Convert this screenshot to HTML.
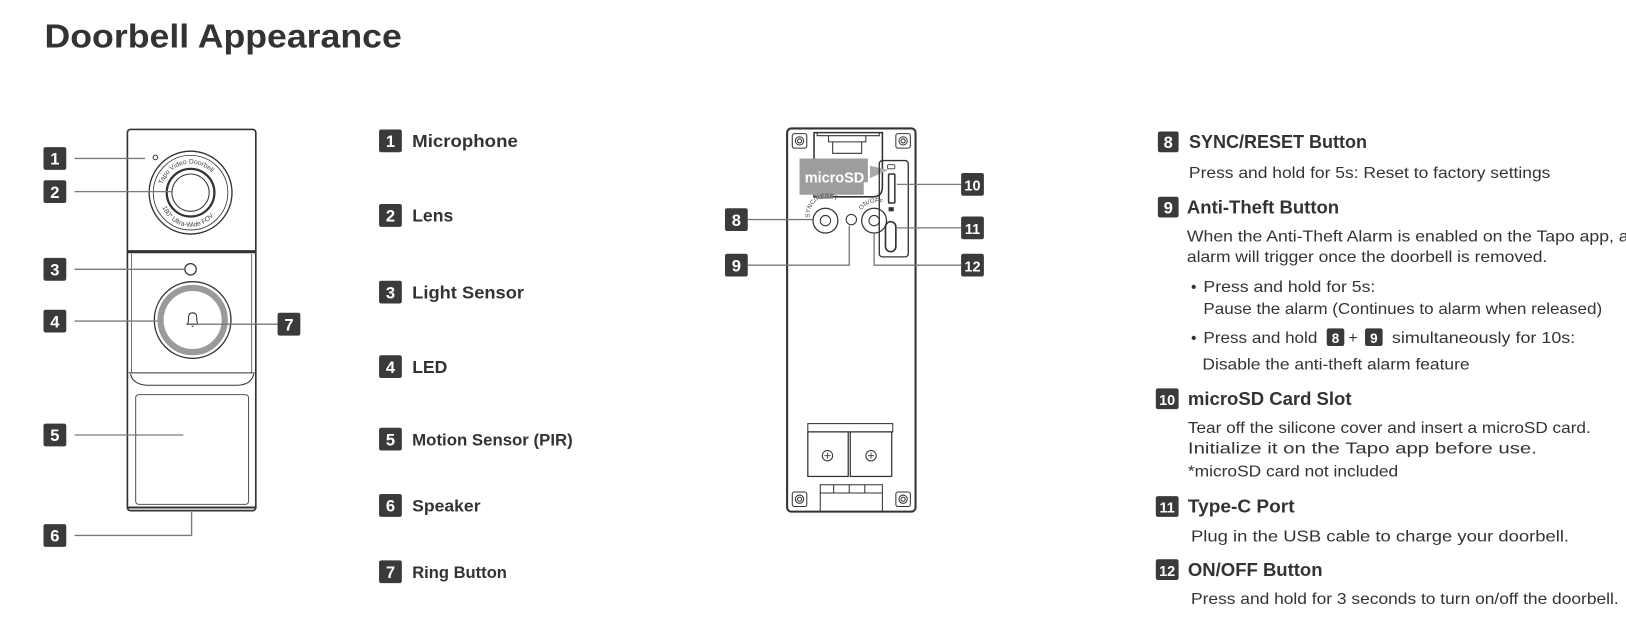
<!DOCTYPE html>
<html><head><meta charset="utf-8"><style>
html,body{margin:0;padding:0;background:#fff;}
svg{display:block;}
text{font-family:"Liberation Sans",sans-serif;fill:#333;}
.b{fill:#3a3a3c;}
.bn{fill:#fff;font-weight:bold;font-size:16px;text-anchor:middle;}
.lb{font-size:17px;font-weight:bold;fill:#333;}
.hd{font-size:18px;font-weight:bold;fill:#333;}
.ds{font-size:15px;fill:#333;}
.ln{stroke:#7a7a7a;stroke-width:1.3;fill:none;}
.dv{stroke:#333;fill:none;}
</style></head><body>
<svg width="1626" height="620" viewBox="0 0 1570 598.6">
<text x="43" y="46" textLength="345" lengthAdjust="spacingAndGlyphs" style="font-size:32px;font-weight:bold;fill:#333">Doorbell Appearance</text>

<!-- LEFT DEVICE -->
<rect x="123" y="125" width="124" height="368" rx="3" class="dv" stroke-width="1.6" fill="#fff"/>
<line x1="123" y1="243" x2="247" y2="243" stroke="#333" stroke-width="3"/>
<line x1="127" y1="245" x2="127" y2="360" stroke="#555" stroke-width="0.8"/>
<line x1="243" y1="245" x2="243" y2="360" stroke="#555" stroke-width="0.8"/>
<path d="M124 360 L246 360 M126 361 Q128 371 142 372 L230 372 Q243 371 245 361" class="dv" stroke-width="1"/>
<rect x="131" y="381" width="109" height="106" rx="3" stroke="#555" fill="none" stroke-width="1"/>
<line x1="123" y1="490" x2="247" y2="490" stroke="#333" stroke-width="2"/>
<circle cx="150" cy="152" r="2.2" class="dv" stroke-width="1"/>
<circle cx="184" cy="186" r="40" class="dv" stroke-width="1.3"/>
<circle cx="184" cy="186" r="36" class="dv" stroke-width="0.8"/>
<circle cx="184" cy="186" r="23" class="dv" stroke-width="2.2"/>
<circle cx="184" cy="186" r="18" class="dv" stroke-width="1"/>
<defs><path id="ta" d="M156 186 A28 28 0 0 1 212 186"/><path id="tb" d="M155 190 A29 29 0 0 0 213 190"/></defs>
<text style="font-size:6.5px;fill:#444"><textPath href="#ta" startOffset="8">Tapo Video Doorbell</textPath></text>
<text style="font-size:6.5px;fill:#444"><textPath href="#tb" startOffset="10">180° Ultra-Wide FOV</textPath></text>
<circle cx="184" cy="260" r="5.5" class="dv" stroke-width="1.2"/>
<circle cx="186" cy="309" r="37" class="dv" stroke-width="1.3"/>
<circle cx="186" cy="309" r="31" fill="none" stroke="#9a9a9a" stroke-width="6"/>
<path d="M180 313 L192 313 M181 313 Q182 311 182 307 Q182 302 186 302 Q190 302 190 307 Q190 311 191 313 M185 315 L187 315" class="dv" stroke-width="1"/>
<path class="ln" d="M72 153 H140 M72 185 H167 M72 260 H178 M72 310 H152 M72 420 H177 M72 517 H185 V493 M190 313 H268"/>
<g>
<rect class="b" x="42" y="142" width="22" height="22" rx="2"/><text class="bn" x="53" y="159">1</text>
<rect class="b" x="42" y="174" width="22" height="22" rx="2"/><text class="bn" x="53" y="191">2</text>
<rect class="b" x="42" y="249" width="22" height="22" rx="2"/><text class="bn" x="53" y="266">3</text>
<rect class="b" x="42" y="299" width="22" height="22" rx="2"/><text class="bn" x="53" y="316">4</text>
<rect class="b" x="42" y="409" width="22" height="22" rx="2"/><text class="bn" x="53" y="426">5</text>
<rect class="b" x="42" y="506" width="22" height="22" rx="2"/><text class="bn" x="53" y="523">6</text>
<rect class="b" x="268" y="302" width="22" height="22" rx="2"/><text class="bn" x="279" y="319">7</text>
</g>

<!-- MIDDLE LIST -->
<g>
<rect class="b" x="366" y="125" width="22" height="22" rx="2"/><text class="bn" x="377" y="142">1</text><text class="lb" x="398" y="142" textLength="102" lengthAdjust="spacingAndGlyphs">Microphone</text>
<rect class="b" x="366" y="197" width="22" height="22" rx="2"/><text class="bn" x="377" y="214">2</text><text class="lb" x="398" y="214">Lens</text>
<rect class="b" x="366" y="271" width="22" height="22" rx="2"/><text class="bn" x="377" y="288">3</text><text class="lb" x="398" y="288" textLength="108" lengthAdjust="spacingAndGlyphs">Light Sensor</text>
<rect class="b" x="366" y="343" width="22" height="22" rx="2"/><text class="bn" x="377" y="360">4</text><text class="lb" x="398" y="360">LED</text>
<rect class="b" x="366" y="413" width="22" height="22" rx="2"/><text class="bn" x="377" y="430">5</text><text class="lb" x="398" y="430" style="font-size:16px" textLength="155" lengthAdjust="spacingAndGlyphs">Motion Sensor (PIR)</text>
<rect class="b" x="366" y="477" width="22" height="22" rx="2"/><text class="bn" x="377" y="494">6</text><text class="lb" x="398" y="494" style="font-size:16px" textLength="66" lengthAdjust="spacingAndGlyphs">Speaker</text>
<rect class="b" x="366" y="541" width="22" height="22" rx="2"/><text class="bn" x="377" y="558">7</text><text class="lb" x="398" y="558" style="font-size:16px">Ring Button</text>
</g>

<!-- BACK DEVICE -->
<rect x="760" y="124" width="124" height="370" rx="4" class="dv" stroke-width="2" fill="#fff"/>
<g class="dv" stroke-width="1">
<rect x="765" y="129" width="14" height="14" rx="2"/><circle cx="772" cy="136" r="4"/><circle cx="772" cy="136" r="2"/>
<rect x="865" y="129" width="14" height="14" rx="2"/><circle cx="872" cy="136" r="4"/><circle cx="872" cy="136" r="2"/>
<rect x="765" y="475" width="14" height="14" rx="2"/><circle cx="772" cy="482" r="4"/><circle cx="772" cy="482" r="2"/>
<rect x="865" y="475" width="14" height="14" rx="2"/><circle cx="872" cy="482" r="4"/><circle cx="872" cy="482" r="2"/>
</g>
<path d="M786 128 V190 H843 Q852 190 852 180 V128 Z" class="dv" stroke-width="1.5"/>
<path d="M789 128 V131 H849 V128 M800 131 V137 H836 V131 M804 137 H832 V148 H804 Z" class="dv" stroke-width="1"/>
<path d="M772 153 H838 V176 H834 V188 H806 L802 192 H790 L786 188 H772 Z" fill="#9d9d9d"/>
<text x="777" y="176" style="font-size:14px;font-weight:bold;fill:#fff">microSD</text>
<path d="M840 160 L858 164 L840 172 Z" fill="#aaa"/>
<rect x="849" y="155" width="28" height="93" rx="3" class="dv" stroke-width="1.3"/>
<rect x="857" y="159" width="7" height="4" rx="1" class="dv" stroke-width="0.8"/>
<rect x="858" y="168" width="6" height="28" rx="1" class="dv" stroke-width="1.5" fill="#444"/>
<rect x="858" y="200" width="5" height="4" fill="#333"/>
<rect x="855" y="214" width="10" height="29" rx="5" class="dv" stroke-width="1.6"/>
<circle cx="797" cy="213" r="12" class="dv" stroke-width="1.2"/><circle cx="797" cy="213" r="5" class="dv" stroke-width="1"/>
<circle cx="822" cy="212" r="5" class="dv" stroke-width="1"/>
<circle cx="844" cy="213" r="12" class="dv" stroke-width="1.2"/><circle cx="844" cy="213" r="5" class="dv" stroke-width="1"/>
<defs><path id="sa" d="M782 210 A16 16 0 0 1 815 205"/><path id="sb" d="M832 203 A15 15 0 0 1 858 203"/></defs>
<text style="font-size:6px;fill:#444"><textPath href="#sa">SYNC/RESET</textPath></text>
<text style="font-size:6px;fill:#444"><textPath href="#sb">ON/OFF</textPath></text>
<rect x="780" y="409" width="82" height="8" class="dv" stroke-width="1"/>
<rect x="780" y="417" width="39" height="43" class="dv" stroke-width="1.2"/>
<rect x="821" y="417" width="40" height="43" class="dv" stroke-width="1.2"/>
<circle cx="799" cy="440" r="5" class="dv"/><circle cx="841" cy="440" r="5" class="dv"/>
<path d="M796 440 h6 M799 437 v6 M838 440 h6 M841 437 v6" class="dv" stroke-width="0.8"/>
<path d="M792 494 V468 H852 V494 M792 476 H852 M805 468 V476 M820 468 V476 M835 468 V476" class="dv" stroke-width="1"/>
<path class="ln" d="M722 212 H785 M722 256 H820 V218 M866 178 H928 M866 220 H928 M928 256 H844 V225"/>
<rect class="b" x="700" y="201" width="22" height="22" rx="2"/><text class="bn" x="711" y="218">8</text>
<rect class="b" x="700" y="245" width="22" height="22" rx="2"/><text class="bn" x="711" y="262">9</text>
<rect class="b" x="928" y="167" width="22" height="22" rx="2"/><text class="bn" x="939" y="184" style="font-size:14px">10</text>
<rect class="b" x="928" y="209" width="22" height="22" rx="2"/><text class="bn" x="939" y="226" style="font-size:14px">11</text>
<rect class="b" x="928" y="245" width="22" height="22" rx="2"/><text class="bn" x="939" y="262" style="font-size:14px">12</text>

<!-- RIGHT TEXT -->
<rect class="b" x="1118" y="127" width="20" height="20" rx="2"/><text class="bn" x="1128" y="143">8</text>
<text class="hd" x="1148" y="143" textLength="172" lengthAdjust="spacingAndGlyphs">SYNC/RESET Button</text>
<text class="ds" x="1148" y="172" textLength="349" lengthAdjust="spacingAndGlyphs">Press and hold for 5s: Reset to factory settings</text>
<rect class="b" x="1118" y="190" width="20" height="20" rx="2"/><text class="bn" x="1128" y="206">9</text>
<text class="hd" x="1146" y="206" textLength="147" lengthAdjust="spacingAndGlyphs">Anti-Theft Button</text>
<text class="ds" x="1146" y="233" textLength="436" lengthAdjust="spacingAndGlyphs">When the Anti-Theft Alarm is enabled on the Tapo app, an</text>
<text class="ds" x="1146" y="253" textLength="348" lengthAdjust="spacingAndGlyphs">alarm will trigger once the doorbell is removed.</text>
<text class="ds" x="1150" y="282">•</text>
<text class="ds" x="1162" y="282" textLength="166" lengthAdjust="spacingAndGlyphs">Press and hold for 5s:</text>
<text class="ds" x="1162" y="303" textLength="385" lengthAdjust="spacingAndGlyphs">Pause the alarm (Continues to alarm when released)</text>
<text class="ds" x="1150" y="331">•</text>
<text class="ds" x="1162" y="331" textLength="110" lengthAdjust="spacingAndGlyphs">Press and hold</text>
<rect class="b" x="1281" y="317" width="17" height="17" rx="2"/><text class="bn" x="1289.5" y="331" style="font-size:13px">8</text>
<text class="ds" x="1302" y="331">+</text>
<rect class="b" x="1318" y="317" width="17" height="17" rx="2"/><text class="bn" x="1326.5" y="331" style="font-size:13px">9</text>
<text class="ds" x="1344" y="331" textLength="177" lengthAdjust="spacingAndGlyphs">simultaneously for 10s:</text>
<text class="ds" x="1161" y="357" textLength="258" lengthAdjust="spacingAndGlyphs">Disable the anti-theft alarm feature</text>
<rect class="b" x="1116" y="375" width="22" height="20" rx="2"/><text class="bn" x="1127" y="391" style="font-size:14px">10</text>
<text class="hd" x="1147" y="391" textLength="158" lengthAdjust="spacingAndGlyphs">microSD Card Slot</text>
<text class="ds" x="1147" y="418" textLength="389" lengthAdjust="spacingAndGlyphs">Tear off the silicone cover and insert a microSD card.</text>
<text class="ds" x="1147" y="438" textLength="337" lengthAdjust="spacingAndGlyphs">Initialize it on the Tapo app before use.</text>
<text class="ds" x="1147" y="460" textLength="203" lengthAdjust="spacingAndGlyphs">*microSD card not included</text>
<rect class="b" x="1116" y="479" width="22" height="20" rx="2"/><text class="bn" x="1127" y="495" style="font-size:14px">11</text>
<text class="hd" x="1147" y="495" textLength="103" lengthAdjust="spacingAndGlyphs">Type-C Port</text>
<text class="ds" x="1150" y="523" textLength="365" lengthAdjust="spacingAndGlyphs">Plug in the USB cable to charge your doorbell.</text>
<rect class="b" x="1116" y="540" width="22" height="20" rx="2"/><text class="bn" x="1127" y="556" style="font-size:14px">12</text>
<text class="hd" x="1147" y="556" textLength="130" lengthAdjust="spacingAndGlyphs">ON/OFF Button</text>
<text class="ds" x="1150" y="583" textLength="413" lengthAdjust="spacingAndGlyphs">Press and hold for 3 seconds to turn on/off the doorbell.</text>
</svg>
</body></html>
